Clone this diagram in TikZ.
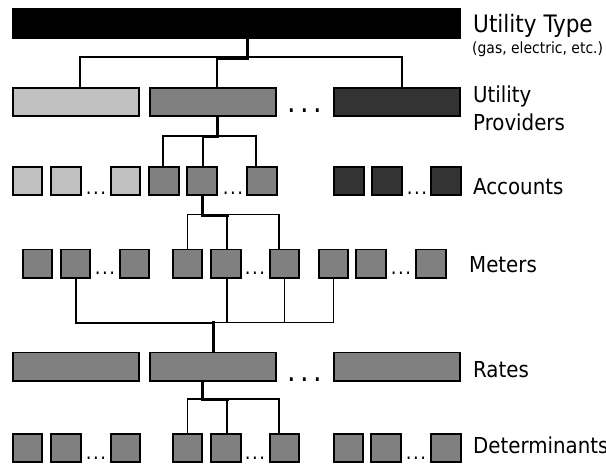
\documentclass[tikz,border=0pt]{standalone}
\usepackage{fontspec}
\setmainfont{DejaVu Sans Condensed}
\definecolor{lightg}{RGB}{192,192,192}
\definecolor{midg}{RGB}{128,128,128}
\definecolor{darkg}{RGB}{51,51,51}
\tikzset{
  box/.style={draw=black, line width=1.8pt, inner sep=0pt, minimum height=28.2pt},
  wide/.style={box, minimum width=126.2pt},
  sq/.style={box, minimum width=29.7pt},
  thin/.style={line width=1.3pt},
  medium/.style={line width=2pt},
  heavy/.style={line width=3pt},
  lbl/.style={anchor=base west, inner sep=0pt, font=\fontsize{22}{24}\selectfont},
  bigdots/.style={anchor=base, inner sep=0pt, font=\fontsize{30}{30}\selectfont},
  smalldots/.style={anchor=base, inner sep=0pt, font=\fontsize{20}{20}\selectfont},
}
\begin{document}
\begin{tikzpicture}[x=1pt,y=-1pt]
\useasboundingbox (0,0) rectangle (606,464);

% utility type bar
\node[box, fill=black, minimum width=447.2pt, minimum height=29.2pt] (type) at (236.5,23.5) {};

% providers
\node[wide, fill=lightg] (p1) at (76,102) {};
\node[wide, fill=midg]   (p2) at (213,102) {};
\node[wide, fill=darkg]  (p3) at (397,102) {};
\node[bigdots] (pdots) at (305,112) {.\kern4.4pt.\kern4.4pt.};

% accounts
\node[sq, fill=lightg] (a1) at (27.5,181) {};
\node[sq, fill=lightg] (a2) at (66,181) {};
\node[sq, fill=lightg] (a3) at (125.5,181) {};
\node[sq, fill=midg]   (a4) at (164,181) {};
\node[sq, fill=midg]   (a5) at (202,181) {};
\node[sq, fill=midg]   (a6) at (262,181) {};
\node[sq, fill=darkg]  (a7) at (349,181) {};
\node[sq, fill=darkg]  (a8) at (387,181) {};
\node[sq, fill=darkg]  (a9) at (446,181) {};
\node[smalldots] (adots1) at (96,194) {.\kern1.5pt.\kern1.5pt.};
\node[smalldots] (adots2) at (233,194) {.\kern1.5pt.\kern1.5pt.};
\node[smalldots] (adots3) at (417,194) {.\kern1.5pt.\kern1.5pt.};

% meters
\node[sq, fill=midg] (m1) at (37.5,263.5) {};
\node[sq, fill=midg] (m2) at (75.5,263.5) {};
\node[sq, fill=midg] (m3) at (134.5,263.5) {};
\node[sq, fill=midg] (m4) at (187.5,263.5) {};
\node[sq, fill=midg] (m5) at (226,263.5) {};
\node[sq, fill=midg] (m6) at (284.5,263.5) {};
\node[sq, fill=midg] (m7) at (333.5,263.5) {};
\node[sq, fill=midg] (m8) at (371,263.5) {};
\node[sq, fill=midg] (m9) at (431,263.5) {};
\node[smalldots] (mdots1) at (105,274) {.\kern1.5pt.\kern1.5pt.};
\node[smalldots] (mdots2) at (255,274) {.\kern1.5pt.\kern1.5pt.};
\node[smalldots] (mdots3) at (401,274) {.\kern1.5pt.\kern1.5pt.};

% rates
\node[wide, fill=midg] (r1) at (76,366.5) {};
\node[wide, fill=midg] (r2) at (213,366.5) {};
\node[wide, fill=midg] (r3) at (397,366.5) {};
\node[bigdots] (rdots) at (305,381) {.\kern4.4pt.\kern4.4pt.};

% determinants
\node[sq, fill=midg] (d1) at (27.5,448) {};
\node[sq, fill=midg] (d2) at (66,448) {};
\node[sq, fill=midg] (d3) at (125.5,448) {};
\node[sq, fill=midg] (d4) at (187.5,448) {};
\node[sq, fill=midg] (d5) at (226,448) {};
\node[sq, fill=midg] (d6) at (284.5,448) {};
\node[sq, fill=midg] (d7) at (348.5,448) {};
\node[sq, fill=midg] (d8) at (386,448) {};
\node[sq, fill=midg] (d9) at (446,448) {};
\node[smalldots] (ddots1) at (96,459) {.\kern1.5pt.\kern1.5pt.};
\node[smalldots] (ddots2) at (255,459) {.\kern1.5pt.\kern1.5pt.};
\node[smalldots] (ddots3) at (416,459) {.\kern1.5pt.\kern1.5pt.};

% type -> providers
\draw[thin] ([xshift=4pt]p1.north) -- ++(0,-30) -| ([xshift=5pt]p3.north);
\draw[thin] ([xshift=4pt]p2.north) -- ++(0,-30);
\draw[heavy] ([xshift=10.5pt]type.south) -- ++(0,19) -| ([xshift=4pt,yshift=29pt]p2.north);

% provider -> accounts
\draw[thin] ([xshift=-1pt]a4.north) -- ++(0,-30) -| ([xshift=-6pt]a6.north);
\draw[thin] ([xshift=1pt]a5.north) -- ++(0,-30);
\draw[heavy] ([xshift=4pt]p2.south) -- ++(0,19) -| ([xshift=1pt,yshift=30pt]a5.north);

% account -> meters
\draw[thin] (m4.north) -- ++(0,-34) -| ([xshift=-5.5pt]m6.north);
\draw[thin] ([xshift=1pt]m5.north) -- ++(0,-34);
\draw[heavy] (a5.south) -- ++(0,19) -| ([xshift=1pt,yshift=34pt]m5.north);

% meters -> rate
\draw[thin] (m2.south) -- ++(0,44) -| (m7.south);
\draw[thin] ([xshift=1pt]m5.south) -- ++(0,44);
\draw[thin] (m6.south) -- ++(0,44);
\draw[medium] (m2.south) -- ++(0,44) -| ([yshift=30pt]r2.north);
\draw[heavy] ([yshift=31pt]r2.north) -- (r2.north);

% rate -> determinants
\draw[thin] (d4.north) -- ++(0,-34) -| ([xshift=-5.5pt]d6.north);
\draw[thin] ([xshift=1pt]d5.north) -- ++(0,-34);
\draw[heavy] ([xshift=-11pt]r2.south) -- ++(0,18) -| ([xshift=1pt,yshift=34pt]d5.north);

% level labels
\node[lbl, font=\fontsize{24}{26}\selectfont] (ltype) at (473,32) {Utility Type};
\node[lbl, font=\fontsize{15.5}{17}\selectfont] (lnote) at (472,53) {(gas, electric, etc.)};
\node[lbl] (lprov1) at (473,102) {Utility};
\node[lbl] (lprov2) at (473,130) {Providers};
\node[lbl] (lacc) at (473,194) {Accounts};
\node[lbl] (lmet) at (469,272) {Meters};
\node[lbl] (lrat) at (473,377) {Rates};
\node[lbl] (ldet) at (473,453) {Determinants};
\end{tikzpicture}
\end{document}
